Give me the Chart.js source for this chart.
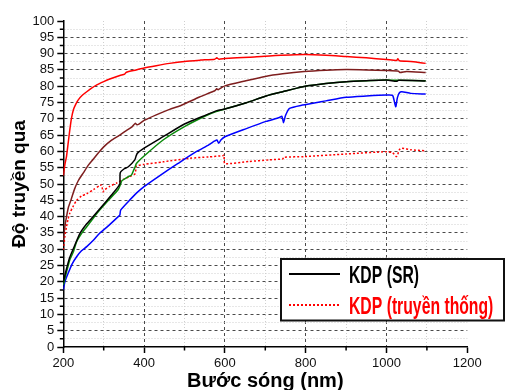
<!DOCTYPE html>
<html>
<head>
<meta charset="utf-8">
<script src="https://cdn.jsdelivr.net/npm/chart.js@4.4.0/dist/chart.umd.min.js"></script>
<style>
  html, body { margin: 0; padding: 0; background: #fff; }
</style>
</head>
<body>
<canvas id="chart" width="507" height="390"></canvas>
<script>
// wavelength (nm) -> transmission (%)
const redX = [200, 204, 208, 212, 216, 220, 225, 231, 237, 247, 258, 270, 283, 300, 315, 340, 352, 356, 380, 400, 430, 463, 500, 540, 575, 580, 585, 600, 660, 710, 796, 850, 900, 950, 1000, 1025, 1028, 1032, 1060, 1080, 1097];
const redY = [52.5, 56, 58.5, 62.5, 66.5, 70, 72.8, 74.5, 75.8, 77.2, 78.3, 79.4, 80.4, 81.4, 82.2, 83.3, 83.7, 84.3, 85, 85.6, 86.3, 87, 87.6, 88, 88.3, 88.7, 88.3, 88.5, 88.9, 89.3, 89.7, 89.5, 89.1, 88.7, 88.2, 87.9, 88.4, 87.8, 87.6, 87.3, 87];

const brownX = [200, 204, 208, 213, 220, 228, 237, 250, 262, 274, 287, 300, 318, 336, 355, 370, 378, 382, 386, 400, 430, 463, 490, 537, 575, 580, 583, 600, 650, 700, 743, 796, 850, 900, 950, 1000, 1030, 1033, 1050, 1097];
const brownY = [32.5, 37, 40, 43, 45.5, 48.5, 51, 53.5, 55.8, 57.6, 59.6, 61.4, 63.3, 64.7, 66.3, 67.5, 68.6, 68.2, 68.3, 69.5, 71.2, 72.9, 74, 76.7, 78.6, 79.2, 78.9, 80.1, 81.6, 83, 83.8, 84.5, 84.9, 85.1, 85, 84.8, 84.6, 84.2, 84.5, 84.2];

const blackX = [200, 204, 208, 216, 225, 241, 258, 274, 290, 307, 322, 336, 340, 341, 350, 361, 377, 380, 383, 400, 447, 500, 554, 580, 600, 653, 702, 743, 796, 850, 900, 950, 1000, 1025, 1030, 1097];
const blackY = [19.8, 22, 24, 27.5, 30.2, 34.8, 37.8, 40, 42.3, 44.8, 47, 49.2, 50, 53.5, 54.6, 55.3, 57.4, 58.5, 59.4, 61, 64.5, 68.4, 71.2, 72.5, 73, 74.9, 77, 78.3, 79.9, 80.8, 81.4, 81.7, 81.9, 81.5, 81.8, 81.6];

const greenX = [200, 204, 208, 216, 225, 233, 245, 258, 274, 290, 310, 336, 342, 345, 360, 369, 375, 378, 381, 400, 447, 500, 554, 580, 600, 653, 702, 743, 796, 850, 900, 950, 1000, 1030, 1097];
const greenY = [19, 21, 23, 26.7, 29.2, 32.3, 34.8, 36.9, 39.5, 42, 44.8, 48.3, 50, 51, 52.2, 52.8, 54.5, 55.3, 56.3, 58.6, 63.5, 67.6, 71, 72.3, 73, 74.9, 77, 78.3, 79.9, 80.8, 81.4, 81.7, 81.9, 81.8, 81.7];

const blueX = [200, 204, 212, 222, 233, 245, 258, 275, 290, 310, 336, 340, 342, 360, 381, 400, 439, 484, 529, 560, 575, 580, 585, 590, 600, 653, 702, 735, 741, 745, 750, 760, 792, 850, 900, 950, 1000, 1015, 1020, 1023, 1027, 1032, 1038, 1060, 1097];
const blueY = [17.5, 20, 22.6, 25.5, 27.7, 29.5, 30.8, 32.8, 34.9, 37, 40, 40.5, 42, 44.5, 47.2, 49.2, 52.6, 56.3, 59.9, 62, 63.2, 63.5, 62.5, 63.5, 64.5, 67, 69.2, 70.4, 70.8, 68.8, 71, 73.2, 74.2, 75.5, 76.6, 77, 77.3, 77.2, 75, 73.7, 76.5, 78, 78.3, 77.8, 77.6];

const dotX = [200, 204, 208, 212, 216, 225, 233, 245, 258, 275, 290, 295, 298, 302, 315, 332, 350, 365, 378, 381, 400, 447, 513, 560, 595, 598, 600, 660, 710, 743, 746, 796, 900, 1000, 1015, 1025, 1032, 1038, 1060, 1097];
const dotY = [29.8, 34, 36.9, 39.3, 41, 43.3, 45, 46.3, 47, 48.3, 49.5, 49.7, 47.6, 48.2, 49.3, 50.3, 51.5, 52.3, 53.2, 55.5, 56, 56.8, 57.9, 58.3, 58.7, 58.9, 56.3, 56.9, 57.4, 57.7, 58.2, 58.4, 59.2, 59.9, 59.6, 58.4, 60.5, 61, 60.5, 60.2];

const xMin = 200, xMax = 1200, xStep = 100, xLabelEvery = 200;
const yMin = 0, yMax = 100, yStep = 2.5, yLabelEvery = 5;

const FONT = '"Liberation Sans", Arial, sans-serif';

function pts(xs, ys) {
  return xs.map((x, i) => ({ x: x, y: ys[i] }));
}

function line(data, color, extra) {
  return Object.assign({
    data: data,
    borderColor: color,
    borderWidth: 1.5,
    pointRadius: 0,
    tension: 0.2,
    fill: false
  }, extra || {});
}

const isMajor = (v, every) => Math.abs(v / every - Math.round(v / every)) < 1e-6;

// legend drawn inside the plot like the original figure
const boxLegend = {
  id: 'boxLegend',
  afterDatasetsDraw(chart, args, opts) {
    const ctx = chart.ctx;
    const items = chart.data.datasets.filter(d => d.legendText);
    ctx.save();
    ctx.fillStyle = '#fff';
    ctx.fillRect(opts.left, opts.top, opts.width, opts.height);
    ctx.lineWidth = 2;
    ctx.strokeStyle = '#111';
    ctx.strokeRect(opts.left, opts.top, opts.width, opts.height);

    ctx.font = 'bold 23px ' + FONT;
    const squeeze = 70 / ctx.measureText(items[0].label).width;

    items.forEach((d, i) => {
      const ly = opts.top + 15 + i * 31;
      ctx.beginPath();
      ctx.setLineDash(d.borderDash || []);
      ctx.lineWidth = d.legendWidth || d.borderWidth;
      ctx.strokeStyle = d.borderColor;
      ctx.moveTo(opts.left + 8, ly);
      ctx.lineTo(opts.left + 59, ly);
      ctx.stroke();
      ctx.setLineDash([]);

      ctx.save();
      ctx.translate(opts.left + 68, opts.top + 23.5 + i * 31.5);
      ctx.scale(squeeze, 1);
      ctx.fillStyle = d.legendText;
      ctx.textBaseline = 'alphabetic';
      ctx.fillText(d.label, 0, 0);
      ctx.restore();
    });
    ctx.restore();
  }
};

// short minor tick marks between the labelled ones
const minorTicks = {
  id: 'minorTicks',
  afterDraw(chart) {
    const ctx = chart.ctx;
    const xs = chart.scales.x, ys = chart.scales.y;
    ctx.save();
    ctx.strokeStyle = '#000';
    ctx.lineWidth = 1.5;
    ctx.beginPath();
    xs.ticks.forEach(t => {
      if (isMajor(t.value, xLabelEvery)) return;
      const px = xs.getPixelForValue(t.value);
      ctx.moveTo(px, xs.top);
      ctx.lineTo(px, xs.top + 3.5);
    });
    ys.ticks.forEach(t => {
      if (isMajor(t.value, yLabelEvery)) return;
      const py = ys.getPixelForValue(t.value);
      ctx.moveTo(ys.right, py);
      ctx.lineTo(ys.right - 3.5, py);
    });
    ctx.stroke();
    ctx.restore();
  }
};

new Chart(document.getElementById('chart'), {
  type: 'line',
  data: {
    datasets: [
      line(pts(redX, redY), '#ff0000'),
      line(pts(brownX, brownY), '#7e1e1e'),
      Object.assign(line(pts(blackX, blackY), '#000000'), { label: 'KDP (SR)', legendText: '#000', legendWidth: 2.2 }),
      line(pts(greenX, greenY), '#0b8a0b'),
      line(pts(blueX, blueY), '#0000ff'),
      Object.assign(line(pts(dotX, dotY), '#ff0000', { borderDash: [2, 2] }), { label: 'KDP (truyền thống)', legendText: '#ff0000', legendWidth: 1.8 })
    ]
  },
  options: {
    responsive: false,
    animation: false,
    parsing: true,
    layout: { padding: { top: 21, right: 39.7, left: 0, bottom: 0 } },
    plugins: {
      legend: { display: false },
      tooltip: { enabled: false },
      boxLegend: { left: 281, top: 259, width: 223, height: 61.5 }
    },
    scales: {
      x: {
        type: 'linear',
        min: xMin,
        max: xMax,
        afterFit: s => { s.height = 43; },
        ticks: {
          stepSize: xStep,
          autoSkip: false,
          maxRotation: 0,
          padding: 3,
          color: '#111',
          font: { size: 13, family: FONT },
          callback: v => isMajor(v, xLabelEvery) ? v : ''
        },
        grid: {
          color: c => {
            const v = c.tick ? c.tick.value : 0;
            if (v === xMin || v === xMax) return 'rgba(0,0,0,0)';
            return isMajor(v, xLabelEvery) ? '#4a4a4a' : '#cfcfcf';
          },
          lineWidth: 1,
          tickLength: 6,
          tickWidth: 1.5,
          tickColor: c => (c.tick && isMajor(c.tick.value, xLabelEvery)) ? '#000' : 'rgba(0,0,0,0)'
        },
        border: {
          color: '#000',
          width: 1.5,
          dash: c => (c.tick && isMajor(c.tick.value, xLabelEvery)) ? [3, 3] : [1, 2]
        },
        title: {
          display: true,
          text: 'Bước sóng (nm)',
          color: '#000',
          font: { size: 20, weight: 'bold', family: FONT, lineHeight: 0.9 },
          padding: { top: 0, bottom: 0 }
        }
      },
      y: {
        type: 'linear',
        min: yMin,
        max: yMax,
        afterFit: s => { s.width = 63.3; },
        ticks: {
          stepSize: yStep,
          autoSkip: false,
          padding: 3,
          color: '#111',
          font: { size: 13, family: FONT },
          callback: v => isMajor(v, yLabelEvery) ? v : ''
        },
        grid: {
          color: c => {
            const v = c.tick ? c.tick.value : 0;
            if (v === yMin || v === yMax) return 'rgba(0,0,0,0)';
            return isMajor(v, yLabelEvery) ? '#4a4a4a' : '#cfcfcf';
          },
          lineWidth: 1,
          tickLength: 6,
          tickWidth: 1.5,
          tickColor: c => (c.tick && isMajor(c.tick.value, yLabelEvery)) ? '#000' : 'rgba(0,0,0,0)'
        },
        border: {
          color: '#000',
          width: 1.5,
          dash: c => (c.tick && isMajor(c.tick.value, yLabelEvery)) ? [3, 3] : [1, 2]
        },
        title: {
          display: true,
          text: 'Độ truyền qua',
          color: '#000',
          font: { size: 19, weight: 'bold', family: FONT, lineHeight: 0.9 },
          padding: { top: 11, bottom: 0 }
        }
      }
    }
  },
  plugins: [boxLegend, minorTicks]
});
</script>
</body>
</html>
